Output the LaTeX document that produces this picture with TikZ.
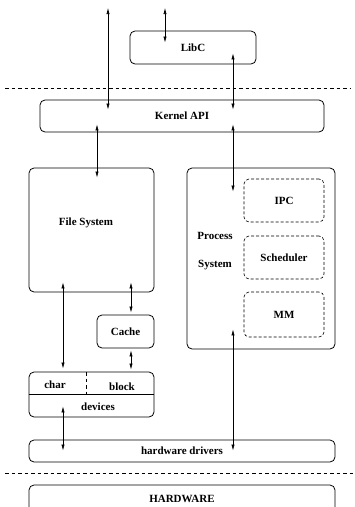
\documentclass[tikz,border=0pt]{standalone}
\usepackage{fontspec}
\setmainfont{Liberation Serif}
\usetikzlibrary{arrows.meta}

\tikzset{
    box/.style={draw, rounded corners=5pt, line width=0.8pt, inner sep=0pt,
        font=\bfseries\fontsize{11}{13}\selectfont},
    subbox/.style={box, dashed, dash pattern=on 3pt off 2pt, line width=0.6pt},
    lbl/.style={inner sep=0pt, font=\bfseries\fontsize{11}{13}\selectfont},
    biarr/.style={{Latex[length=6pt,width=3.2pt]}-{Latex[length=6pt,width=3.2pt]}, line width=0.6pt},
    sep/.style={dashed, dash pattern=on 3.5pt off 3pt, line width=0.6pt}
}

\begin{document}
\begin{tikzpicture}[x=1pt, y=-1pt]
    \useasboundingbox (0,0) rectangle (355,507);

    % user space
    \node[box, minimum width=126pt, minimum height=33pt] (libc) at (193,47.5) {LibC};
    \coordinate (sysin) at (108,8);
    \coordinate (libin) at (165,8);
    \coordinate (sepL) at (5,88);
    \coordinate (sepR) at (350,88);
    \draw[sep] (sepL) -- (sepR);

    % kernel
    \node[box, minimum width=284pt, minimum height=32pt] (api) at (182,116) {Kernel API};

    \node[box, minimum width=125pt, minimum height=124pt] (fs) at (91.5,230) {};
    \node[lbl] (fslbl) at (86,223) {File System};

    \node[box, minimum width=148pt, minimum height=181pt] (ps) at (261,258.5) {};
    \node[lbl, align=center, font=\bfseries\fontsize{11}{28}\selectfont] (pslbl) at (215,251) {Process\\System};
    \node[subbox, minimum width=80pt, minimum height=43pt] (ipc) at (284,200.5) {IPC};
    \node[subbox, minimum width=80pt, minimum height=43pt] (sched) at (284,257.5) {Scheduler};
    \node[subbox, minimum width=80pt, minimum height=45pt] (mm) at (284,314.5) {MM};

    \node[box, minimum width=57pt, minimum height=33pt] (cache) at (125.5,331.5) {Cache};

    % devices
    \node[box, minimum width=125pt, minimum height=45pt] (dev) at (91.5,394.5) {};
    \draw[line width=0.8pt] (dev.west |- 0,394) -- (dev.east |- 0,394);
    \draw[sep] (86,372) -- (86,394);
    \node[lbl, anchor=base] (chr) at (55,388) {char};
    \node[lbl, anchor=base] (blk) at (122,390) {block};
    \node[lbl] (devlbl) at (98,407) {devices};

    \node[box, minimum width=306pt, minimum height=22pt] (hwd) at (182,451) {hardware drivers};

    \coordinate (hsepL) at (5,473);
    \coordinate (hsepR) at (355,473);
    \draw[sep] (hsepL) -- (hsepR);

    % hardware
    \node[box, minimum width=306pt, minimum height=28pt] (hw) at (182,499) {HARDWARE};

    % arrows
    \draw[biarr, shorten >=-10pt] (sysin) -- (sysin |- api.north);
    \draw[biarr, shorten >=-12pt] (libin) -- (libin |- libc.north);
    \draw[biarr, shorten <=-11pt, shorten >=-10pt] (libc.south -| 233,0) -- (api.north -| 233,0);
    \draw[biarr, shorten <=-8pt, shorten >=-10pt] (api.south -| 97,0) -- (fs.north -| 97,0);
    \draw[biarr, shorten <=-8pt, shorten >=-24pt] (api.south -| 233,0) -- (ps.north -| 233,0);
    \draw[biarr, shorten <=-10pt, shorten >=3pt] (fs.south -| 63,0) -- (dev.north -| 63,0);
    \draw[biarr, shorten <=-10pt, shorten >=2pt] (fs.south -| 131,0) -- (cache.north -| 131,0);
    \draw[biarr, shorten <=2pt, shorten >=2pt] (cache.south -| 131,0) -- (dev.north -| 131,0);
    \draw[biarr, shorten <=-11pt, shorten >=-11pt] (dev.south -| 63,0) -- (hwd.north -| 63,0);
    \draw[biarr, shorten <=-20pt, shorten >=-11pt] (ps.south -| 233,0) -- (hwd.north -| 233,0);
\end{tikzpicture}
\end{document}
